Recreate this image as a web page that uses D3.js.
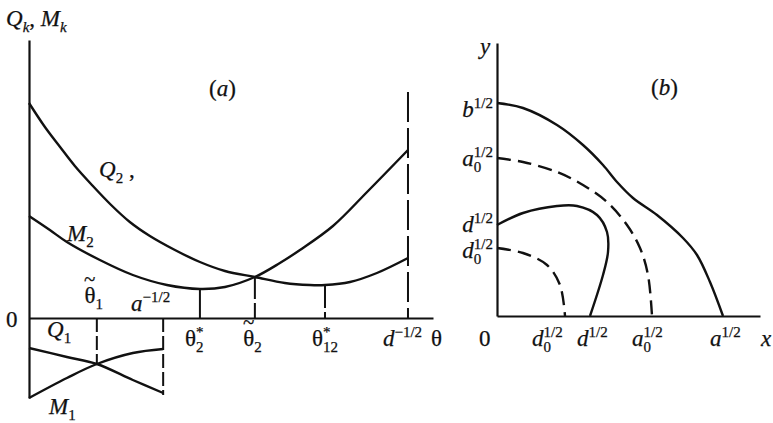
<!DOCTYPE html>
<html>
<head>
<meta charset="utf-8">
<script src="https://cdn.jsdelivr.net/npm/d3@7"></script>
<style>
  html, body { margin: 0; padding: 0; background: #fff; }
  svg { display: block; }
  text { font-family: "Liberation Serif", "Times New Roman", serif; fill: #111; stroke: #111; stroke-width: 0.25px; }
</style>
</head>
<body>
<svg id="fig" width="773" height="423"></svg>
<script>
// ---------- Panel (a): Q_k and M_k against θ ----------
// marked abscissae: θ2*, θ̃2, θ12*, d^{-1/2}
const thetaMarks = ["theta2Star", "theta2Tilde", "theta12Star", "dInvHalf"];
const thetaMarkValues = [0.451, 0.596, 0.781, 1.0];
const thetaMarkTops = [0.28, 0.41, 0.32, 2.26];

// Q2(θ)
const q2Theta = [0, 0.042, 0.082, 0.121, 0.166, 0.214, 0.266, 0.319, 0.385, 0.451, 0.517, 0.596, 0.675, 0.741, 0.781, 0.847, 0.918, 1.0];
const q2Value = [2.15, 1.91, 1.71, 1.52, 1.33, 1.14, 0.96, 0.82, 0.68, 0.56, 0.47, 0.41, 0.35, 0.33, 0.33, 0.36, 0.45, 0.60];

// M2(θ)
const m2Theta = [0, 0.055, 0.100, 0.187, 0.274, 0.364, 0.451, 0.517, 0.596, 0.662, 0.715, 0.802, 0.892, 1.0];
const m2Value = [1.02, 0.88, 0.76, 0.58, 0.43, 0.33, 0.29, 0.31, 0.41, 0.55, 0.68, 0.92, 1.26, 1.68];

// Q1(θ), M1(θ) below the axis
const lowTheta = [0, 0.100, 0.179, 0.274, 0.354];
const q1Value = [-0.30, -0.39, -0.46, -0.62, -0.75];
const m1Value = [-0.80, -0.60, -0.46, -0.35, -0.31];
const lowMarks = [0.179, 0.354];
const lowMarkBottoms = [-0.46, -0.77];

// ---------- Panel (b): boundaries in the (x, y) plane ----------
const bX = [0, 0.26, 0.60, 0.86, 1.06, 1.20, 1.36, 1.60, 1.86, 2.00, 2.13, 2.26];
const bY = [2.13, 2.08, 1.91, 1.71, 1.51, 1.34, 1.18, 1.01, 0.78, 0.61, 0.34, 0];
const a0X = [0, 0.26, 0.60, 0.86, 1.10, 1.30, 1.43, 1.51, 1.55];
const a0Y = [1.58, 1.54, 1.44, 1.31, 1.14, 0.91, 0.68, 0.41, 0];
const dX = [0, 0.26, 0.60, 0.80, 1.00, 1.10, 1.11, 1.06, 0.93];
const dY = [0.91, 1.03, 1.10, 1.10, 1.01, 0.84, 0.64, 0.41, 0];
const d0X = [0, 0.26, 0.50, 0.63, 0.68];
const d0Y = [0.68, 0.63, 0.51, 0.31, 0];

// axis marks of panel (b)
const yMarkNames = ["b", "a0", "d", "d0"];
const yMarkValues = [2.13, 1.58, 0.91, 0.68];
const xMarkNames = ["d0", "d", "a0", "a"];
const xMarkValues = [0.68, 0.93, 1.55, 2.26];

// ---------- drawing ----------
const svg = d3.select("#fig");
svg.append("rect").attr("width", 773).attr("height", 423).attr("fill", "#fff");

const MAIN = 23, SMALL = 15, ACCENT = 21;

// text with sub/superscripts (and an accent over the previous glyph) built from tspans
function rich(g, x, y, parts, anchor) {
  const t = g.append("text").attr("x", x).attr("y", y)
    .attr("text-anchor", anchor || "start");
  let shift = 0;
  parts.forEach(([s, kind, dx]) => {
    const small = kind.startsWith("sub") || kind.startsWith("sup");
    const target = kind.startsWith("sub") ? 6 : kind.startsWith("sup") ? -9 : kind === "acc" ? -17 : 0;
    const ts = t.append("tspan")
      .attr("dy", target - shift)
      .attr("font-size", small ? SMALL : kind === "acc" ? ACCENT : MAIN)
      .attr("font-style", kind.endsWith("i") ? "italic" : "normal")
      .text(s);
    if (dx) ts.attr("dx", dx);
    shift = target;
  });
  return t;
}
// θ with a tilde above it
const thetaTilde = [["θ", "r"], ["~", "acc", -11.5]];

// ----- panel (a) -----
const ga = svg.append("g");
const xL = d3.scaleLinear().domain([0, 1.066]).range([29, 433]);
const yL = d3.scaleLinear().domain([-0.8, 2.78]).range([398, 40]);

ga.append("g").attr("transform", `translate(0,${yL(0)})`)
  .call(d3.axisBottom(xL).tickValues([]).tickSizeOuter(0))
  .call(s => s.select(".domain").attr("stroke", "#111").attr("stroke-width", 2.2));
ga.append("g").attr("transform", `translate(${xL(0)},0)`)
  .call(d3.axisLeft(yL).tickValues([]).tickSizeOuter(0))
  .call(s => s.select(".domain").attr("stroke", "#111").attr("stroke-width", 2.2));

const lineA = d3.line().x(d => xL(d[0])).y(d => yL(d[1])).curve(d3.curveCatmullRom.alpha(0.5));
const curveStyle = sel => sel.attr("fill", "none").attr("stroke", "#111").attr("stroke-width", 2.4);

ga.append("path").datum(d3.zip(q2Theta, q2Value)).attr("d", lineA).call(curveStyle);
ga.append("path").datum(d3.zip(m2Theta, m2Value)).attr("d", lineA).call(curveStyle);
ga.append("path").datum(d3.zip(lowTheta, q1Value)).attr("d", lineA).call(curveStyle);
ga.append("path").datum(d3.zip(lowTheta, m1Value)).attr("d", lineA).call(curveStyle);

// verticals at the marked θ
const markDash = ["none", "22,4", "22,4", "30,6"];
thetaMarkValues.forEach((v, i) => {
  ga.append("line")
    .attr("x1", xL(v)).attr("x2", xL(v))
    .attr("y1", yL(thetaMarkTops[i])).attr("y2", yL(0))
    .attr("stroke", "#111").attr("stroke-width", 2)
    .attr("stroke-dasharray", markDash[i]);
});
lowMarks.forEach((v, i) => {
  ga.append("line")
    .attr("x1", xL(v)).attr("x2", xL(v))
    .attr("y1", yL(0)).attr("y2", yL(lowMarkBottoms[i]))
    .attr("stroke", "#111").attr("stroke-width", 2)
    .attr("stroke-dasharray", "14,4");
});

// labels of panel (a)
rich(ga, 6, 26, [["Q", "i"], ["k", "subi"], [", ", "r"], ["M", "i"], ["k", "subi"]]);
rich(ga, 209, 96, [["(", "r"], ["a", "i"], [")", "r"]]);
rich(ga, 99, 177, [["Q", "i"], ["2", "sub"], [" ,", "r"]]);
rich(ga, 67, 241, [["M", "i"], ["2", "sub"]]);
rich(ga, 84, 303, [...thetaTilde, ["1", "sub"]]);
rich(ga, 131, 311, [["a", "i"], ["−1/2", "sup"]]);
rich(ga, 6, 327, [["0", "r"]]);
rich(ga, 47, 337, [["Q", "i"], ["1", "sub"]]);
rich(ga, 49, 414, [["M", "i"], ["1", "sub"]]);

const thetaLabelY = 346;
const thetaLabelParts = [
  [["θ", "r"], ["2", "sub"], ["*", "sup", -7.5]],
  [...thetaTilde, ["2", "sub"]],
  [["θ", "r"], ["12", "sub"], ["*", "sup", -15]],
  [["d", "i"], ["−1/2", "sup"]]
];
const thetaLabelShift = [-15, -12, -13, -25];
thetaMarkValues.forEach((v, i) => {
  rich(ga, xL(v) + thetaLabelShift[i], thetaLabelY, thetaLabelParts[i]);
});
rich(ga, 431, thetaLabelY, [["θ", "r"]]);

// ----- panel (b) -----
const gb = svg.append("g");
const xR = d3.scaleLinear().domain([0, 2.63]).range([497, 760]);
const yR = d3.scaleLinear().domain([0, 2.73]).range([316, 43]);

gb.append("g").attr("transform", `translate(0,${yR(0)})`)
  .call(d3.axisBottom(xR).tickValues([]).tickSizeOuter(0))
  .call(s => s.select(".domain").attr("stroke", "#111").attr("stroke-width", 2.2));
gb.append("g").attr("transform", `translate(${xR(0)},0)`)
  .call(d3.axisLeft(yR).tickValues([]).tickSizeOuter(0))
  .call(s => s.select(".domain").attr("stroke", "#111").attr("stroke-width", 2.2));

const lineB = d3.line().x(d => xR(d[0])).y(d => yR(d[1])).curve(d3.curveCatmullRom.alpha(0.5));
gb.append("path").datum(d3.zip(bX, bY)).attr("d", lineB).call(curveStyle);
gb.append("path").datum(d3.zip(dX, dY)).attr("d", lineB).call(curveStyle);
gb.append("path").datum(d3.zip(a0X, a0Y)).attr("d", lineB).call(curveStyle).attr("stroke-dasharray", "14,7");
gb.append("path").datum(d3.zip(d0X, d0Y)).attr("d", lineB).call(curveStyle).attr("stroke-dasharray", "14,7");

const markParts = {
  b: [["b", "i"], ["1/2", "sup"]],
  a: [["a", "i"], ["1/2", "sup"]],
  d: [["d", "i"], ["1/2", "sup"]],
  a0: [["a", "i"], ["0", "sub"], ["1/2", "sup", -7.5]],
  d0: [["d", "i"], ["0", "sub"], ["1/2", "sup", -7.5]]
};
const yMarkBaseline = [14, 8, 7, 10];
yMarkValues.forEach((v, i) => {
  rich(gb, 493, yR(v) + yMarkBaseline[i], markParts[yMarkNames[i]], "end");
});
const xMarkShift = [-33, -13, -20, -13];
xMarkValues.forEach((v, i) => {
  rich(gb, xR(v) + xMarkShift[i], 346, markParts[xMarkNames[i]]);
});
rich(gb, 479, 346, [["0", "r"]]);
rich(gb, 761, 346, [["x", "i"]]);
rich(gb, 480, 54, [["y", "i"]]);
rich(gb, 651, 95, [["(", "r"], ["b", "i"], [")", "r"]]);
</script>
</body>
</html>
